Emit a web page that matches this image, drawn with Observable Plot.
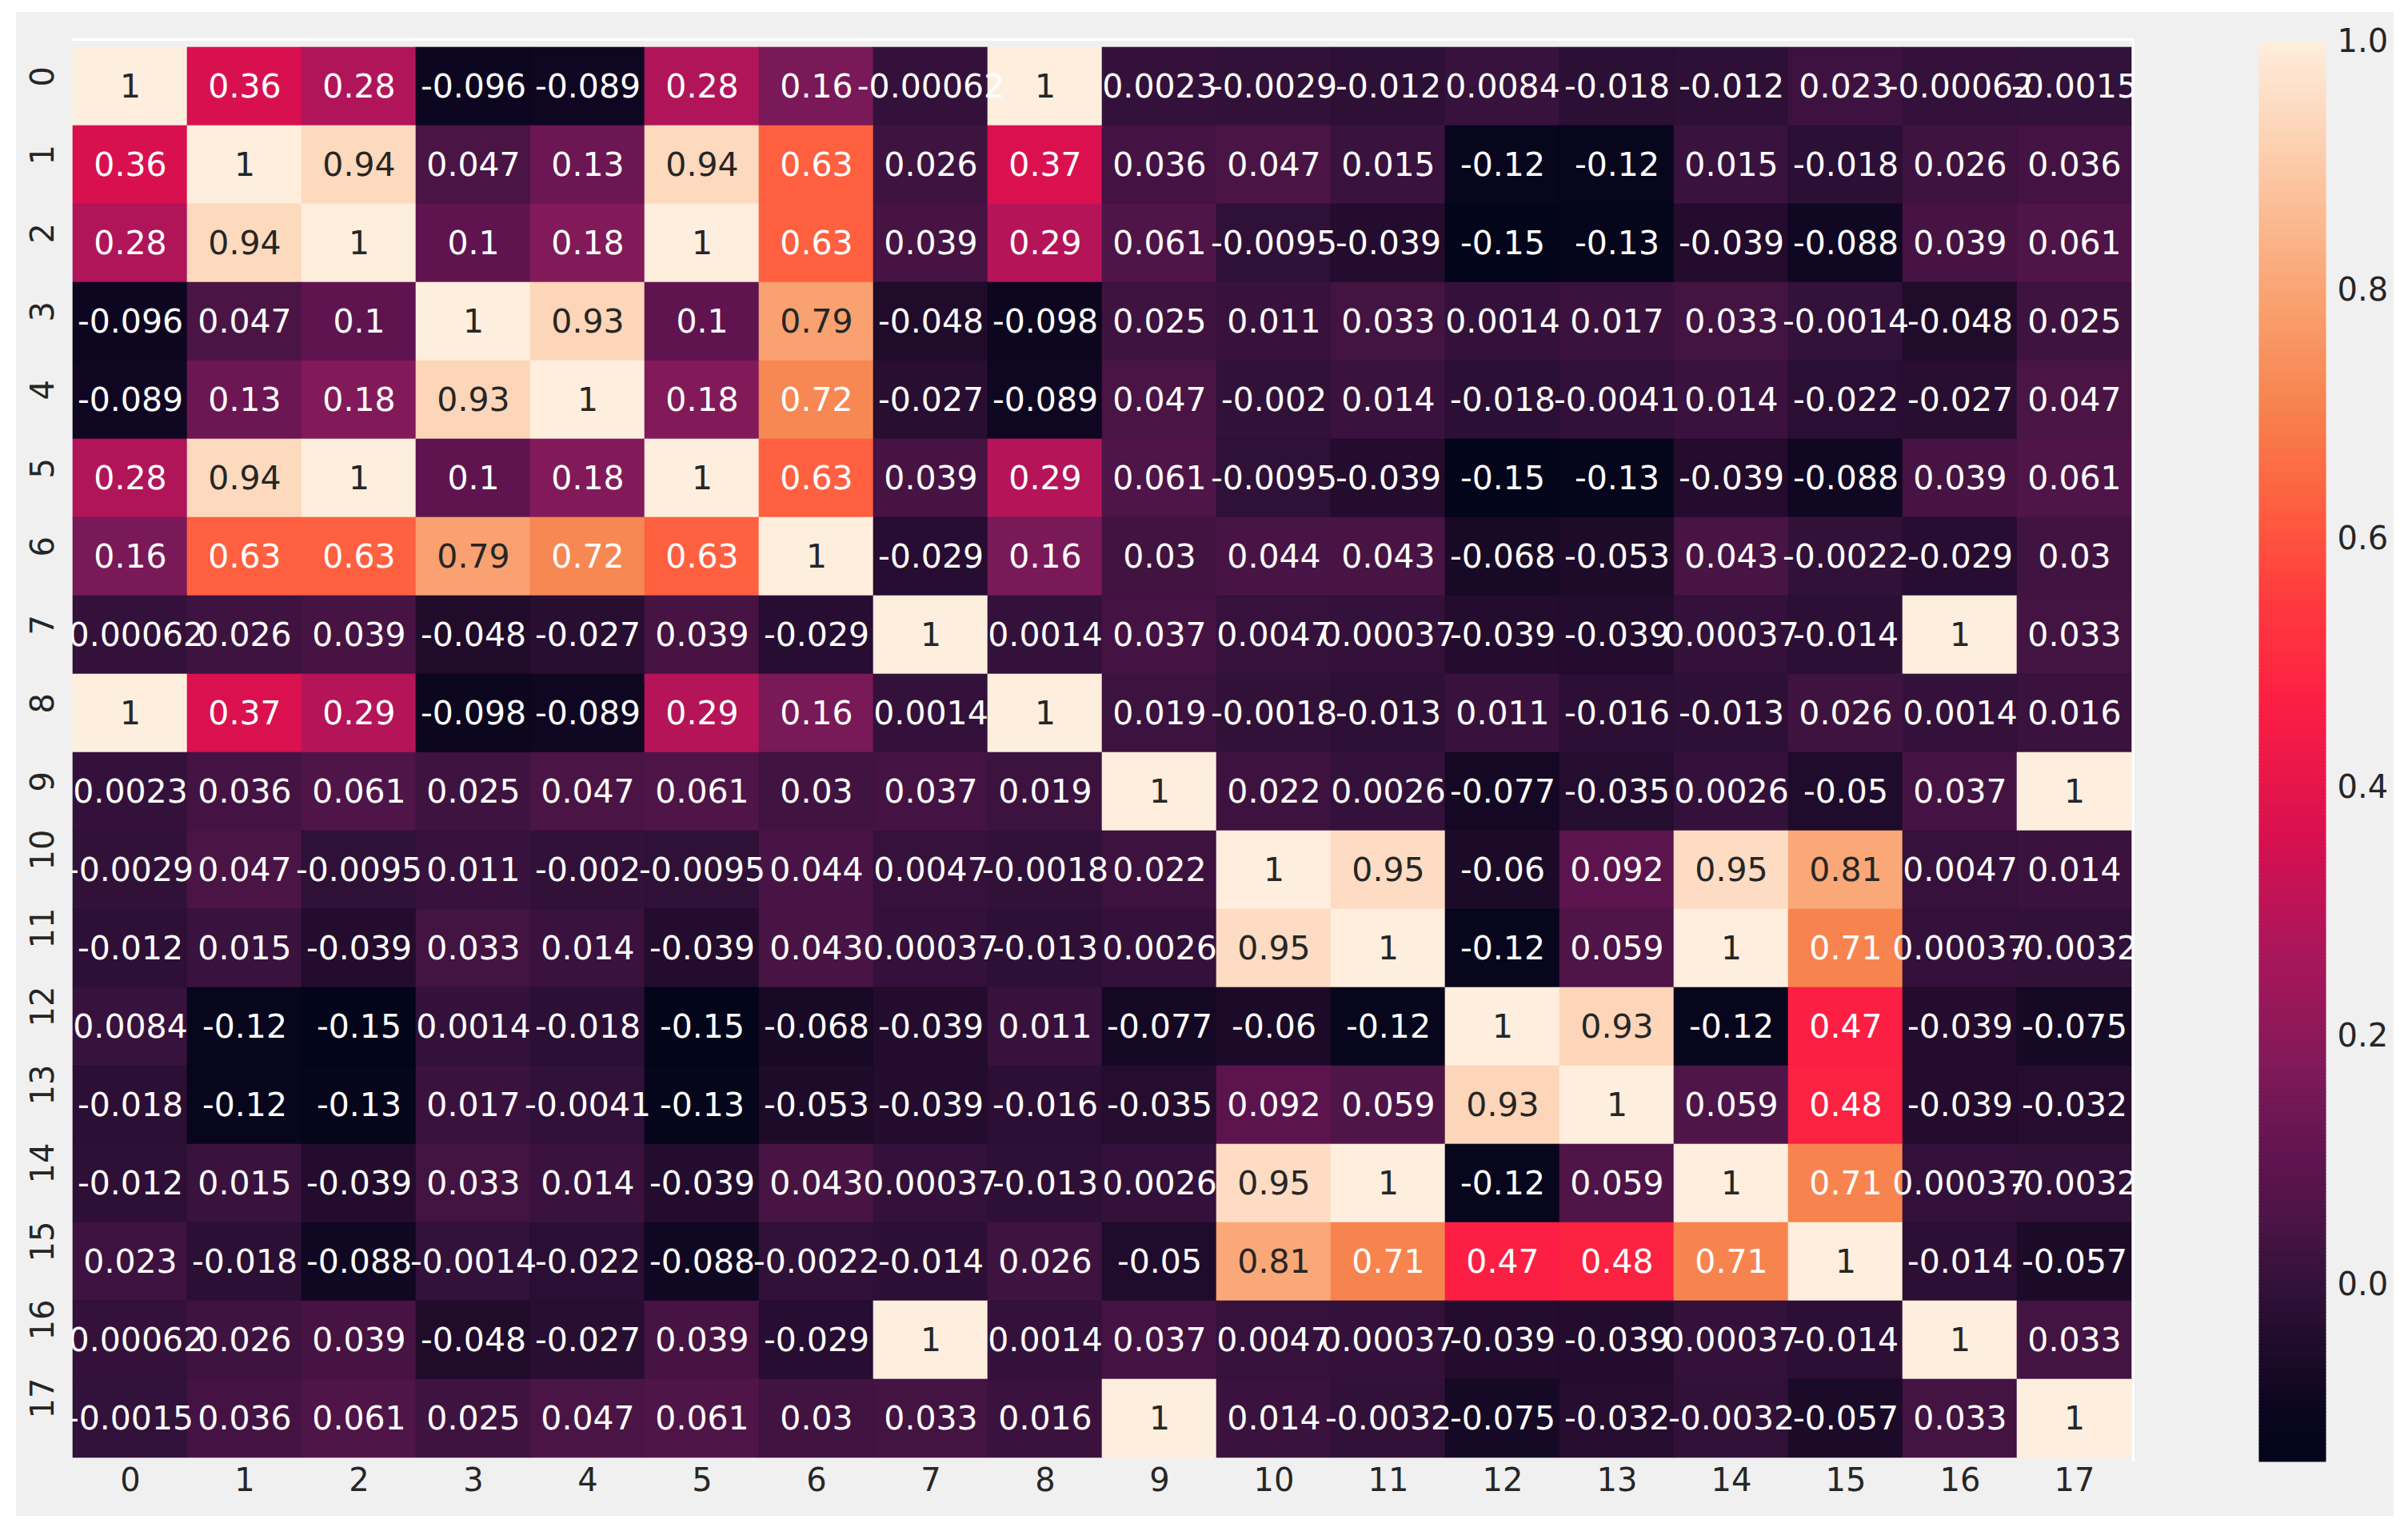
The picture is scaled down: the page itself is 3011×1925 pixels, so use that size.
<!DOCTYPE html>
<html><head><meta charset="utf-8">
<script src="https://cdn.jsdelivr.net/npm/d3@7"></script>
<script src="https://cdn.jsdelivr.net/npm/@observablehq/plot@0.6"></script>
<style>
html,body{margin:0;padding:0;background:#fff;width:3011px;height:1925px;overflow:hidden;}
#panel{position:absolute;left:20px;top:15px;width:2973px;height:1881px;background:#f0f0f0;}
#main{position:absolute;left:0;top:0;}
#bar{position:absolute;left:2700px;top:0;}
.edge{position:absolute;background:#fff;}
</style></head><body>
<div id="panel"></div>
<div class="edge" style="left:90px;top:48px;width:2579px;height:3px;"></div>
<div class="edge" style="left:2666px;top:48px;width:3px;height:1781px;"></div>
<div id="main"></div>
<div id="bar"></div>
<script>
// Tick labels (row / column names)
const labels = ["0","1","2","3","4","5","6","7","8","9","10","11","12","13","14","15","16","17"];

// Correlation rows (as annotated in the reference)
const r0  = [1, 0.36, 0.28, -0.096, -0.089, 0.28, 0.16, -0.00062, 1, 0.0023, -0.0029, -0.012, 0.0084, -0.018, -0.012, 0.023, -0.00062, -0.0015];
const r1  = [0.36, 1, 0.94, 0.047, 0.13, 0.94, 0.63, 0.026, 0.37, 0.036, 0.047, 0.015, -0.12, -0.12, 0.015, -0.018, 0.026, 0.036];
const r2  = [0.28, 0.94, 1, 0.1, 0.18, 1, 0.63, 0.039, 0.29, 0.061, -0.0095, -0.039, -0.15, -0.13, -0.039, -0.088, 0.039, 0.061];
const r3  = [-0.096, 0.047, 0.1, 1, 0.93, 0.1, 0.79, -0.048, -0.098, 0.025, 0.011, 0.033, 0.0014, 0.017, 0.033, -0.0014, -0.048, 0.025];
const r4  = [-0.089, 0.13, 0.18, 0.93, 1, 0.18, 0.72, -0.027, -0.089, 0.047, -0.002, 0.014, -0.018, -0.0041, 0.014, -0.022, -0.027, 0.047];
const r5  = [0.28, 0.94, 1, 0.1, 0.18, 1, 0.63, 0.039, 0.29, 0.061, -0.0095, -0.039, -0.15, -0.13, -0.039, -0.088, 0.039, 0.061];
const r6  = [0.16, 0.63, 0.63, 0.79, 0.72, 0.63, 1, -0.029, 0.16, 0.03, 0.044, 0.043, -0.068, -0.053, 0.043, -0.0022, -0.029, 0.03];
const r7  = [-0.00062, 0.026, 0.039, -0.048, -0.027, 0.039, -0.029, 1, 0.0014, 0.037, 0.0047, 0.00037, -0.039, -0.039, 0.00037, -0.014, 1, 0.033];
const r8  = [1, 0.37, 0.29, -0.098, -0.089, 0.29, 0.16, 0.0014, 1, 0.019, -0.0018, -0.013, 0.011, -0.016, -0.013, 0.026, 0.0014, 0.016];
const r9  = [0.0023, 0.036, 0.061, 0.025, 0.047, 0.061, 0.03, 0.037, 0.019, 1, 0.022, 0.0026, -0.077, -0.035, 0.0026, -0.05, 0.037, 1];
const r10 = [-0.0029, 0.047, -0.0095, 0.011, -0.002, -0.0095, 0.044, 0.0047, -0.0018, 0.022, 1, 0.95, -0.06, 0.092, 0.95, 0.81, 0.0047, 0.014];
const r11 = [-0.012, 0.015, -0.039, 0.033, 0.014, -0.039, 0.043, 0.00037, -0.013, 0.0026, 0.95, 1, -0.12, 0.059, 1, 0.71, 0.00037, -0.0032];
const r12 = [0.0084, -0.12, -0.15, 0.0014, -0.018, -0.15, -0.068, -0.039, 0.011, -0.077, -0.06, -0.12, 1, 0.93, -0.12, 0.47, -0.039, -0.075];
const r13 = [-0.018, -0.12, -0.13, 0.017, -0.0041, -0.13, -0.053, -0.039, -0.016, -0.035, 0.092, 0.059, 0.93, 1, 0.059, 0.48, -0.039, -0.032];
const r14 = [-0.012, 0.015, -0.039, 0.033, 0.014, -0.039, 0.043, 0.00037, -0.013, 0.0026, 0.95, 1, -0.12, 0.059, 1, 0.71, 0.00037, -0.0032];
const r15 = [0.023, -0.018, -0.088, -0.0014, -0.022, -0.088, -0.0022, -0.014, 0.026, -0.05, 0.81, 0.71, 0.47, 0.48, 0.71, 1, -0.014, -0.057];
const r16 = [-0.00062, 0.026, 0.039, -0.048, -0.027, 0.039, -0.029, 1, 0.0014, 0.037, 0.0047, 0.00037, -0.039, -0.039, 0.00037, -0.014, 1, 0.033];
const r17 = [-0.0015, 0.036, 0.061, 0.025, 0.047, 0.061, 0.03, 0.033, 0.016, 1, 0.014, -0.0032, -0.075, -0.032, -0.0032, -0.057, 0.033, 1];

// Colour bar ticks and range
const barTicks = [0, 0.2, 0.4, 0.6, 0.8, 1.0];
const vmin = -0.142, vmax = 1;

// Colour ramp as it appears in the picture (vivid "rocket")
const rampValues = [-0.142, -0.10, -0.04, 0.0, 0.05, 0.10, 0.18, 0.28, 0.36, 0.47, 0.55, 0.63, 0.71, 0.81, 0.93, 1.0];
const rampColors = ["#03051a", "#0b061f", "#230c2d", "#33113a", "#4b1446", "#5f1450", "#821a5a", "#b0155a",
                    "#d81050", "#fc1f43", "#ff3a3e", "#fe6040", "#f7844f", "#faa878", "#fdd5b8", "#feeede"];
const colorOpts = {type: "linear", domain: rampValues, range: rampColors, clamp: true, interpolate: "rgb"};

// seaborn "rocket" stops, used only for the annotation text-colour rule
const rocketColors = ["#03051a", "#35193e", "#701f57", "#ad1759", "#e13342", "#f37651", "#f6b48f", "#faebdd"];
const rocketStops = rocketColors.map((_, i) => vmin + i / (rocketColors.length - 1) * (vmax - vmin));
const lumScale = d3.scaleLinear().domain(rocketStops).range(rocketColors).clamp(true);
function luminance(c) {
  const col = d3.rgb(c);
  const f = v => { v /= 255; return v <= 0.03928 ? v / 12.92 : Math.pow((v + 0.055) / 1.055, 2.4); };
  return 0.2126 * f(col.r) + 0.7152 * f(col.g) + 0.0722 * f(col.b);
}

const rowsData = [r0,r1,r2,r3,r4,r5,r6,r7,r8,r9,r10,r11,r12,r13,r14,r15,r16,r17];
const cells = [];
rowsData.forEach((row, i) => row.forEach((v, j) => {
  cells.push({row: labels[i], col: labels[j], value: v, label: String(v), light: luminance(lumScale(v)) > 0.408});
}));

const font = "'DejaVu Sans', 'Liberation Sans', sans-serif";
const ink = "#262626";

const main = Plot.plot({
  width: 2700, height: 1925,
  marginLeft: 90, marginRight: 34, marginTop: 52, marginBottom: 96,
  style: {background: "transparent", fontFamily: font, fontSize: "40px", overflow: "visible", color: ink},
  x: {type: "band", domain: labels, padding: 0, axis: null},
  y: {type: "band", domain: labels, padding: 0, axis: null},
  color: colorOpts,
  marks: [
    Plot.cell(cells, {x: "col", y: "row", fill: "value", stroke: "value", strokeWidth: 0.6, inset: 0}),
    Plot.text(cells.filter(d => !d.light), {x: "col", y: "row", text: "label", fill: "#ffffff", fontSize: 41, clip: true}),
    Plot.text(cells.filter(d => d.light), {x: "col", y: "row", text: "label", fill: ink, fontSize: 41, clip: true}),
    Plot.text(labels, {x: d => d, text: d => d, frameAnchor: "bottom", dy: 35, fill: ink, fontSize: 40}),
    Plot.text(labels, {y: d => d, text: d => d, frameAnchor: "left", dx: -36, rotate: -90, fill: ink, fontSize: 40})
  ]
});
document.getElementById("main").appendChild(main);

const N = 400;
const bands = d3.range(N).map(i => {
  const lo = vmin + i / N * (vmax - vmin), hi = vmin + (i + 1) / N * (vmax - vmin);
  return {lo, hi, mid: (lo + hi) / 2};
});
const bar = Plot.plot({
  width: 311, height: 1925,
  marginLeft: 125, marginRight: 103, marginTop: 52, marginBottom: 97,
  style: {background: "transparent", fontFamily: font, fontSize: "40px", overflow: "visible", color: ink},
  x: {domain: [0, 1], axis: null},
  y: {domain: [vmin, vmax], axis: "right", ticks: barTicks, tickFormat: d3.format(".1f"), tickSize: 0, tickPadding: 14, label: null},
  color: colorOpts,
  marks: [
    Plot.rect(bands, {x1: 0, x2: 1, y1: "lo", y2: "hi", fill: "mid", stroke: "mid", strokeWidth: 1})
  ]
});
document.getElementById("bar").appendChild(bar);
</script></body></html>
